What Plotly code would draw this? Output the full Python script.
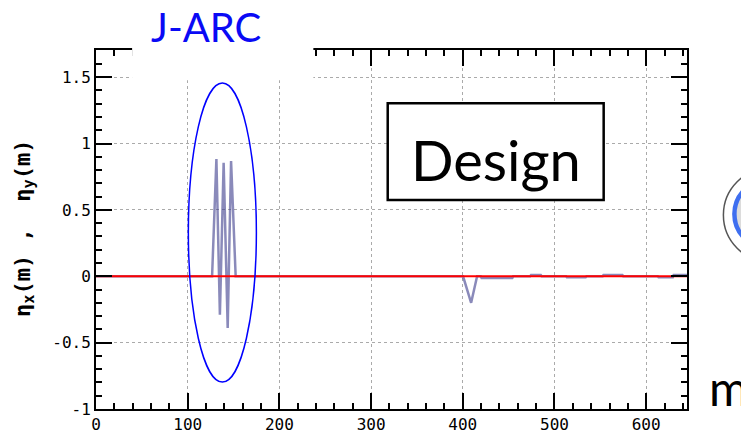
import plotly.graph_objects as go

# Horizontal dispersion eta_x along the ring (m)
s_x = [0, 644.5]
eta_x = [0, 0]

# Vertical dispersion eta_y along the ring (m)
s_y = [0, 126.6, 131.3, 135.1, 139.2, 143.6, 147.3, 152.3,
       400.3, 409.1, 415.6,
       419.5, 420.5, 454.0, 455.0,
       473.5, 474.5, 485.0, 486.0,
       512.5, 513.5, 534.0, 535.0,
       552.5, 553.5, 574.0, 575.0,
       612.5, 613.5, 629.0, 630.0, 644.5]
eta_y = [0, 0, 0.884, -0.29, 0.856, -0.39, 0.869, 0,
         0, -0.2, 0,
         0, -0.012, -0.012, 0,
         0, 0.01, 0.01, 0,
         0, -0.008, -0.008, 0,
         0, 0.01, 0.01, 0,
         0, -0.008, -0.008, 0.01, 0.01]

x_ticks = [0, 100, 200, 300, 400, 500, 600]
x_labels = ["0", "100", "200", "300", "400", "500", "600"]
y_ticks = [-1, -0.5, 0, 0.5, 1, 1.5]
y_labels = ["-1", "-0.5", "0", "0.5", "1", "1.5"]

# Region highlighted as the J-ARC section (s range, eta range)
arc_s = [100.7, 174.9]
arc_eta = [-0.797, 1.456]

mono = "DejaVu Sans Mono"

fig = go.Figure()
fig.add_trace(go.Scatter(x=s_y, y=eta_y, mode="lines",
                         line=dict(color="rgba(60,60,140,0.6)", width=2.5),
                         hoverinfo="skip"))
fig.add_trace(go.Scatter(x=s_x, y=eta_x, mode="lines",
                         line=dict(color="#ff0000", width=2),
                         hoverinfo="skip"))

axis_common = dict(
    showline=True, linewidth=2, linecolor="black", mirror="allticks",
    ticks="inside", ticklen=16, tickwidth=2, tickcolor="black",
    showgrid=True, gridcolor="#aaaaaa", griddash="dot", gridwidth=1,
    zeroline=False, automargin=False,
    tickfont=dict(family=mono, size=16, color="black"),
)

fig.update_xaxes(range=[0, 644.5], tickmode="array", tickvals=x_ticks,
                 ticktext=x_labels,
                 minor=dict(dtick=20, ticks="inside", ticklen=6, tickwidth=2,
                            tickcolor="black", showgrid=False),
                 **axis_common)
fig.update_yaxes(range=[-1, 1.705], tickmode="array", tickvals=y_ticks,
                 ticktext=y_labels,
                 minor=dict(dtick=0.1, ticks="inside", ticklen=6, tickwidth=2,
                            tickcolor="black", showgrid=False),
                 **axis_common)

shapes = [
    # ellipse around the arc section
    dict(type="circle", xref="x", yref="y",
         x0=arc_s[0], x1=arc_s[1], y0=arc_eta[0], y1=arc_eta[1],
         line=dict(color="#0000ff", width=1.5), layer="above"),
    # white panel behind the J-ARC caption
    dict(type="rect", xref="paper", yref="paper",
         x0=0.0611, x1=0.3678, y0=0.916, y1=1.16,
         fillcolor="white", line=dict(width=0), layer="above"),
    # Design label box
    dict(type="rect", xref="paper", yref="paper",
         x0=0.4936, x1=0.859, y0=0.582, y1=0.8515,
         fillcolor="white", line=dict(color="black", width=2.5), layer="above"),
    # emblem at the right edge
    dict(type="circle", xref="paper", yref="paper",
         x0=1.0616, x1=1.2206, y0=0.4095, y1=0.6713,
         fillcolor="white", line=dict(color="#555555", width=1.5), layer="above"),
    dict(type="circle", xref="paper", yref="paper",
         x0=1.0802, x1=1.1952, y0=0.4485, y1=0.6379,
         fillcolor="#dcdcdc", line=dict(color="#3f6ff0", width=4.5), layer="above"),
]

nb = "\u00a0"
annotations = [
    dict(text="J-ARC", xref="paper", yref="paper", x=0.186, y=1.064,
         xanchor="center", yanchor="middle", showarrow=False,
         font=dict(family="Lato", size=40, color="#0a0af5")),
    dict(text="Design", xref="paper", yref="paper", x=0.6775, y=0.696,
         xanchor="center", yanchor="middle", showarrow=False,
         font=dict(family="Lato", size=56, color="black")),
    dict(text="m", xref="paper", yref="paper", x=1.0345, y=-0.025,
         xanchor="left", yanchor="bottom", showarrow=False,
         font=dict(family="Lato", size=48, color="black")),
    dict(text="<b>η<sub>x</sub>(m)" + nb + "," + nb + nb + "η<sub>y</sub>(m)</b>",
         xref="paper", yref="paper", x=-0.122, y=0.504,
         xanchor="center", yanchor="middle", textangle=-90, showarrow=False,
         font=dict(family=mono, size=22, color="black")),
]

fig.update_layout(
    width=741, height=433,
    margin=dict(l=96, r=54, t=50, b=24),
    paper_bgcolor="white", plot_bgcolor="white",
    showlegend=False,
    shapes=shapes, annotations=annotations,
)

fig.write_html("out.html")
